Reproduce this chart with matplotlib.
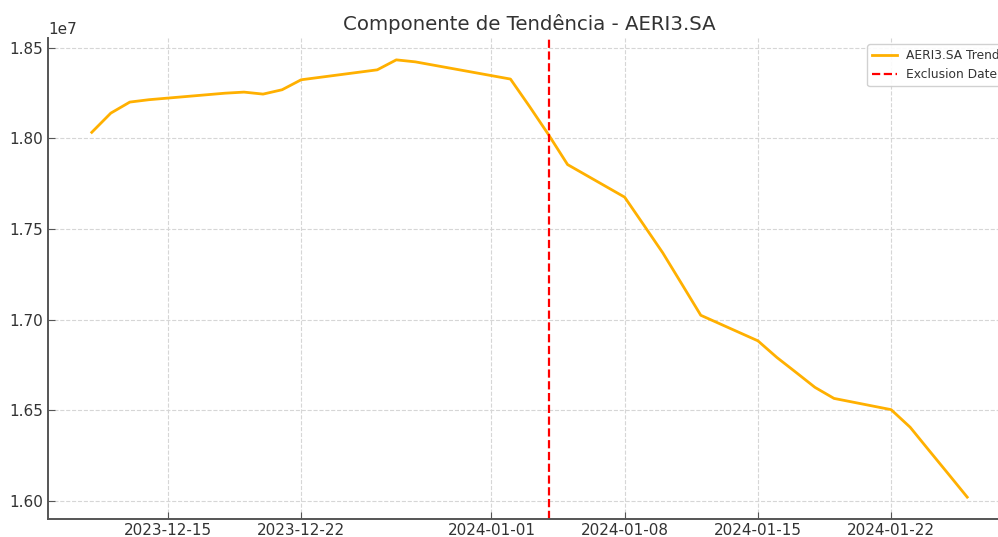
import matplotlib
matplotlib.use("Agg")
import matplotlib.pyplot as plt
import matplotlib.dates as mdates
import numpy as np
import pandas as pd

dates = ["2023-12-11", "2023-12-12", "2023-12-13", "2023-12-14", "2023-12-15",
         "2023-12-18", "2023-12-19", "2023-12-20", "2023-12-21", "2023-12-22",
         "2023-12-26", "2023-12-27", "2023-12-28",
         "2024-01-02", "2024-01-03", "2024-01-04", "2024-01-05",
         "2024-01-08", "2024-01-09", "2024-01-10", "2024-01-11", "2024-01-12",
         "2024-01-15", "2024-01-16", "2024-01-17", "2024-01-18", "2024-01-19",
         "2024-01-22", "2024-01-23", "2024-01-24", "2024-01-25", "2024-01-26"]
trend = [1.8034, 1.8140, 1.8201, 1.8214, 1.8223,
         1.8250, 1.8256, 1.8245, 1.8269, 1.8324,
         1.8379, 1.8434, 1.8423,
         1.8328, 1.8177, 1.8021, 1.7856,
         1.7676, 1.7523, 1.7369, 1.7197, 1.7024,
         1.6883, 1.6791, 1.6709, 1.6626, 1.6565,
         1.6503, 1.6406, 1.6277, 1.6149, 1.6020]
exclusion_date = "2024-01-04"
title = "Componente de Tendência - AERI3.SA"
series_label = "AERI3.SA Trend"
excl_label = "Exclusion Date"

x = pd.to_datetime(dates)
y = np.array(trend) * 1e7

fig = plt.figure(figsize=(9.98, 5.37), dpi=100)
ax = fig.add_axes([48 / 998, 1 - 519 / 537, (1011 - 48) / 998, (519 - 38) / 537])

ax.plot(x, y, color="#FFB000", lw=2.0, label=series_label)
ax.axvline(pd.Timestamp(exclusion_date), color="red", ls="--", lw=1.6, label=excl_label)

ax.set_title(title, fontsize=14.2, color="#333333", pad=6)
ax.grid(True, ls="--", color="#d6d6d6", lw=0.8)
for s in ["top", "right"]:
    ax.spines[s].set_visible(False)
for s in ["left", "bottom"]:
    ax.spines[s].set_color("#555555")
    ax.spines[s].set_linewidth(1.4)
ax.tick_params(direction="in", colors="#555555", labelcolor="#333333", labelsize=11, length=5)
ax.tick_params(axis="x", pad=3)
ax.yaxis.get_offset_text().set_fontsize(11)
ax.yaxis.get_offset_text().set_color("#333333")

ticks = pd.to_datetime(["2023-12-15", "2023-12-22", "2024-01-01", "2024-01-08", "2024-01-15", "2024-01-22"])
ax.set_xticks(ticks)
ax.xaxis.set_major_formatter(mdates.DateFormatter("%Y-%m-%d"))
ax.set_yticks(np.array([1.60, 1.65, 1.70, 1.75, 1.80, 1.85]) * 1e7)

leg = ax.legend(loc="upper right", fontsize=8.8, frameon=True, framealpha=0.9, edgecolor="#cccccc")
for t in leg.get_texts():
    t.set_color("#333333")

fig.savefig("out.png", dpi=100)
